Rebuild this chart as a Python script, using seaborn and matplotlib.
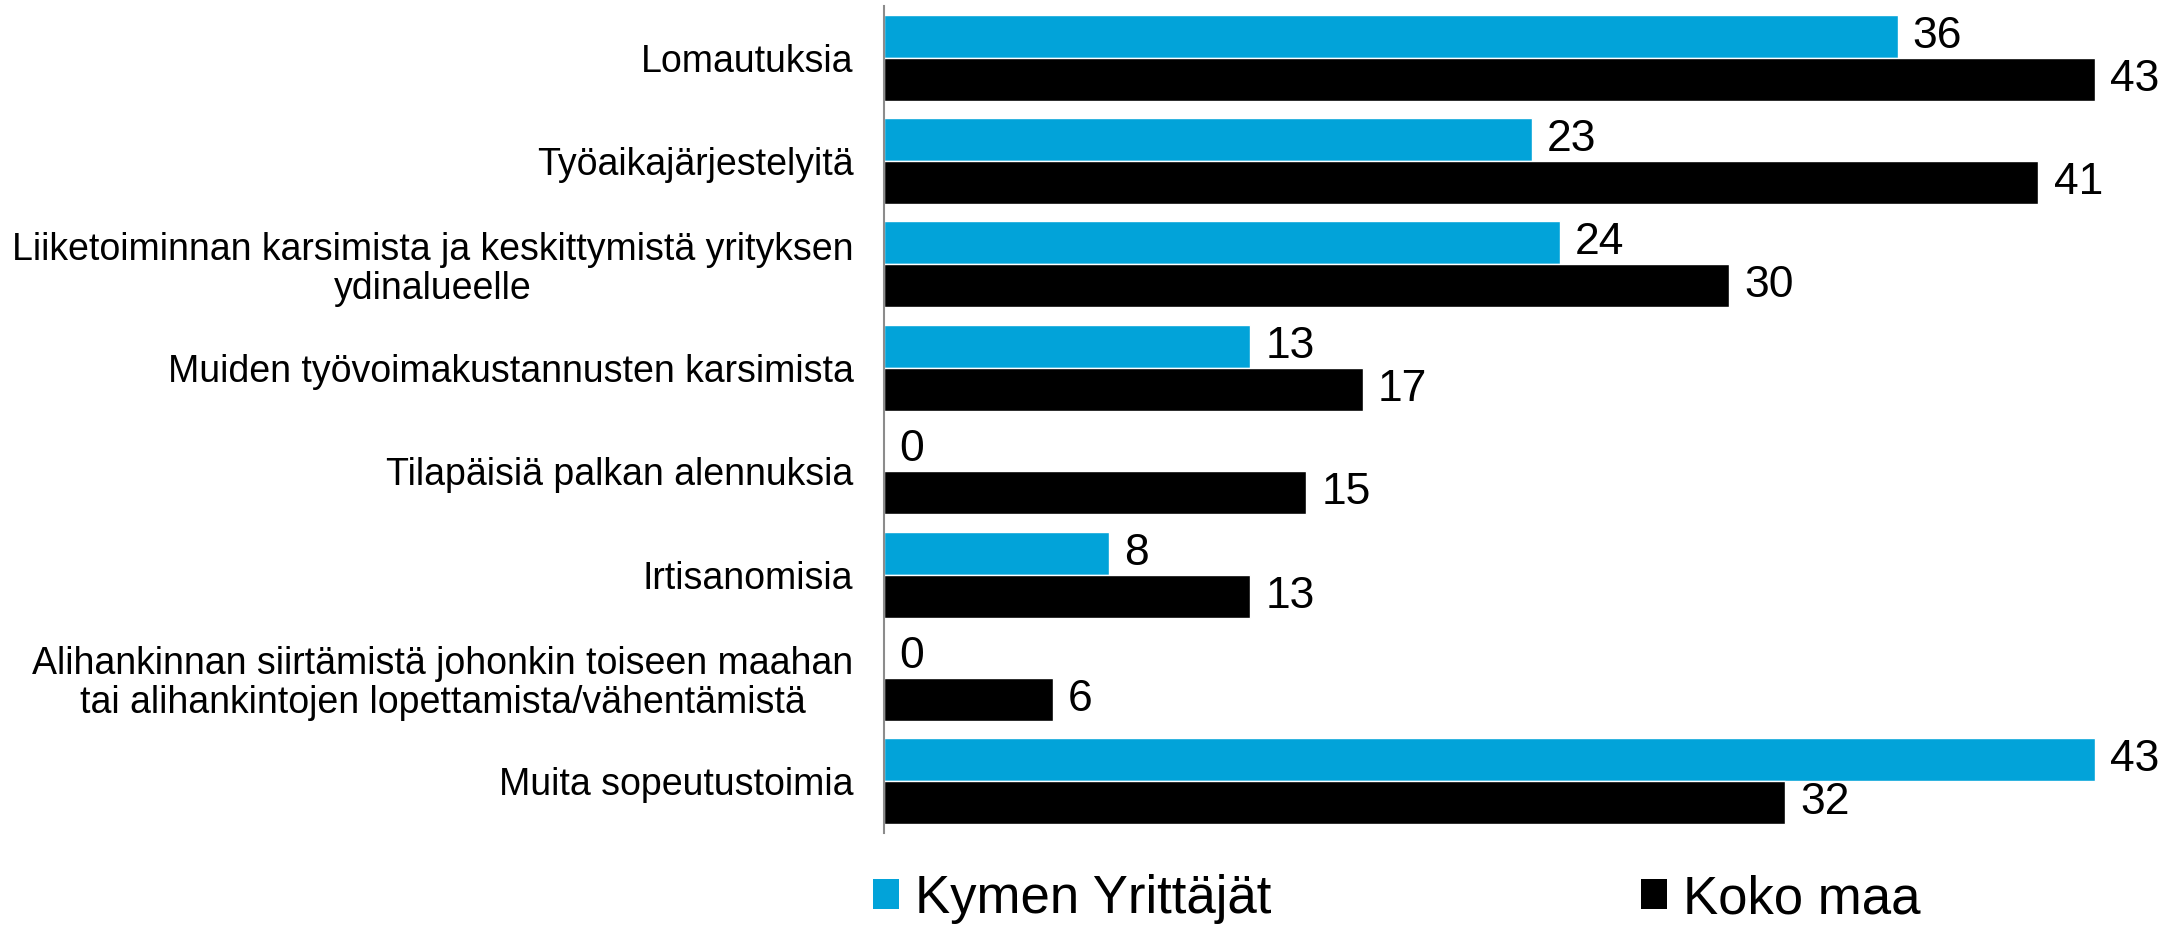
import pandas as pd
import numpy as np
import matplotlib
matplotlib.use("Agg")
import matplotlib.pyplot as plt
import seaborn as sns
from matplotlib.patches import Patch

# Data
kategoriat = [
    "Lomautuksia",
    "Työaikajärjestelyitä",
    "Liiketoiminnan karsimista ja keskittymistä yrityksen\nydinalueelle",
    "Muiden työvoimakustannusten karsimista",
    "Tilapäisiä palkan alennuksia",
    "Irtisanomisia",
    "Alihankinnan siirtämistä johonkin toiseen maahan\ntai alihankintojen lopettamista/vähentämistä",
    "Muita sopeutustoimia",
]
sarjat = ["Kymen Yrittäjät", "Koko maa"]
kymen = [36, 23, 24, 13, 0, 8, 0, 43]
koko_maa = [43, 41, 30, 17, 15, 13, 6, 32]
varit = ["#02A3D9", "#000000"]

df = pd.DataFrame({
    "kategoria": kategoriat * 2,
    "sarja": [sarjat[0]] * len(kategoriat) + [sarjat[1]] * len(kategoriat),
    "arvo": kymen + koko_maa,
})

sns.set_theme(style="white")
plt.rcParams["font.family"] = ["Liberation Sans", "DejaVu Sans"]

fig = plt.figure(figsize=(21.72, 9.25), dpi=100)
ax = fig.add_axes([884 / 2172, 1 - 833 / 925, 1 - 884 / 2172, (833 - 6) / 925])

sns.barplot(data=df, y="kategoria", x="arvo", hue="sarja", order=kategoriat,
            hue_order=sarjat, palette=varit, orient="h", width=0.833,
            saturation=1, ax=ax, legend=False)

for cont in ax.containers:
    ax.bar_label(cont, fmt="%d", padding=11, fontsize=32, color="black")

ax.set_xlim(0, 45.75)
ax.set_ylim(len(kategoriat) - 0.5, -0.5)
ax.set_xlabel("")
ax.set_ylabel("")
ax.set_xticks([])
for s in ["top", "right", "bottom"]:
    ax.spines[s].set_visible(False)
ax.spines["left"].set_color("#8c8c8c")
ax.spines["left"].set_linewidth(1.5)
ax.tick_params(axis="y", length=0, pad=22, labelsize=27, labelcolor="black")
for lbl in ax.get_yticklabels():
    lbl.set_multialignment("center")
    lbl.set_linespacing(1.1)

handles = [Patch(facecolor=c, edgecolor="none") for c in varit]
fig.legend(handles, sarjat, loc="center left", bbox_to_anchor=(873 / 2172, 1 - 899 / 925),
           ncol=2, frameon=False, fontsize=38, handlelength=0.5, handleheight=0.5,
           handletextpad=0.3, columnspacing=7.0, borderpad=0, borderaxespad=0,
           labelcolor="black")

fig.savefig("out.png", dpi=100)
